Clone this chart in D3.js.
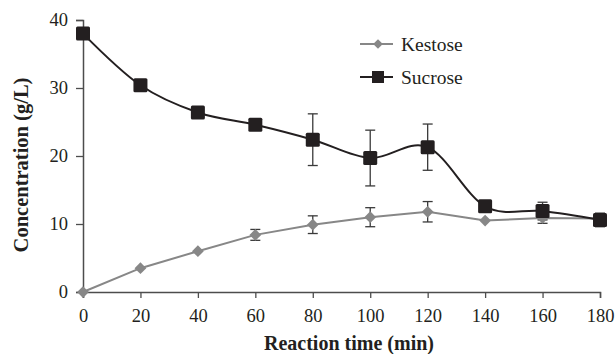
<!DOCTYPE html>
<html>
<head>
<meta charset="utf-8">
<script src="https://cdn.jsdelivr.net/npm/d3@7"></script>
<style>
body { margin: 0; background: #fff; }
</style>
</head>
<body>
<script>
const w = 615;
const h = 354;
const margin = {top: 20, right: 15, bottom: 62, left: 83};

// data
const times = [0, 20, 40, 60, 80, 100, 120, 140, 160, 180];
const sucrose = [38, 30.4, 26.4, 24.6, 22.4, 19.7, 21.3, 12.6, 11.9, 10.6];
const sucroseErr = [0, 0, 0, 0, 3.8, 4.1, 3.4, 0, 1.3, 1.0];
const kestose = [0, 3.5, 6.0, 8.4, 9.9, 11.0, 11.8, 10.5, 10.9, 10.8];
const kestoseErr = [0, 0, 0, 0.8, 1.3, 1.4, 1.5, 0, 0.8, 0.6];
const xTicks = [0, 20, 40, 60, 80, 100, 120, 140, 160, 180];
const yTicks = [0, 10, 20, 30, 40];

const serif = "Liberation Serif";
const ink = "#231f20";

const svg = d3.select("body")
	.append("svg")
	.attr("width", w)
	.attr("height", h);

const xScale = d3.scaleLinear().domain([0, 180]).range([margin.left, w - margin.right]);
const yScale = d3.scaleLinear().domain([0, 40]).range([h - margin.bottom, margin.top]);

const axisColor = "#4d4d4d";

const xAxis = d3.axisBottom(xScale).tickValues(xTicks).tickSize(6).tickPadding(11);
const gx = svg.append("g").attr("transform", "translate(0," + (h - margin.bottom) + ")").call(xAxis);
const yAxis = d3.axisLeft(yScale).tickValues(yTicks).tickSize(7).tickPadding(8);
const gy = svg.append("g").attr("transform", "translate(" + margin.left + ",0)").call(yAxis);

[gx, gy].forEach(g => {
	g.attr("font-family", null).attr("font-size", null);
	g.select(".domain").attr("stroke", axisColor).attr("stroke-width", 1.5);
	g.selectAll(".tick line").attr("stroke", axisColor).attr("stroke-width", 1.3);
	g.selectAll(".tick text")
		.attr("fill", ink)
		.attr("font-family", serif)
		.attr("font-size", 18.5);
});

svg.append("text")
	.attr("x", 349)
	.attr("y", 350)
	.attr("text-anchor", "middle")
	.attr("font-family", serif)
	.attr("font-weight", "bold")
	.attr("font-size", 20)
	.attr("fill", ink)
	.text("Reaction time (min)");

svg.append("text")
	.attr("transform", "translate(28,165) rotate(-90)")
	.attr("text-anchor", "middle")
	.attr("font-family", serif)
	.attr("font-weight", "bold")
	.attr("font-size", 20.5)
	.attr("fill", ink)
	.text("Concentration (g/L)");

const kColor = "#878787";
const sColor = "#231f20";

// lines
const sLine = d3.line()
	.x((d, i) => xScale(times[i]))
	.y(d => yScale(d))
	.curve(d3.curveCardinal.tension(0));
const kLine = d3.line()
	.x((d, i) => xScale(times[i]))
	.y(d => yScale(d));

svg.append("path").datum(kestose)
	.attr("d", kLine)
	.attr("fill", "none")
	.attr("stroke", kColor)
	.attr("stroke-width", 2);

svg.append("path").datum(sucrose)
	.attr("d", sLine)
	.attr("fill", "none")
	.attr("stroke", sColor)
	.attr("stroke-width", 2);

// error bars
function errBars(vals, errs, cls) {
	const data = vals.map((v, i) => ({t: times[i], v: v, e: errs[i]})).filter(d => d.e > 0);
	const g = svg.append("g").attr("class", cls);
	g.selectAll("line.v").data(data).enter().append("line")
		.attr("x1", d => xScale(d.t)).attr("x2", d => xScale(d.t))
		.attr("y1", d => yScale(d.v - d.e)).attr("y2", d => yScale(d.v + d.e))
		.attr("stroke", "#3a3a3a").attr("stroke-width", 1.3);
	[-1, 1].forEach(s => {
		g.selectAll("line.c" + (s > 0 ? "t" : "b")).data(data).enter().append("line")
			.attr("x1", d => xScale(d.t) - 5).attr("x2", d => xScale(d.t) + 5)
			.attr("y1", d => yScale(d.v + s * d.e)).attr("y2", d => yScale(d.v + s * d.e))
			.attr("stroke", "#3a3a3a").attr("stroke-width", 1.3);
	});
}
errBars(kestose, kestoseErr, "kerr");
errBars(sucrose, sucroseErr, "serr");

// markers
const diamond = d3.symbol().type(d3.symbolDiamond2).size(88);
svg.selectAll("path.k").data(kestose).enter().append("path")
	.attr("class", "k")
	.attr("d", diamond)
	.attr("transform", (d, i) => "translate(" + xScale(times[i]) + "," + yScale(d) + ")")
	.attr("fill", kColor);

svg.selectAll("rect.s").data(sucrose).enter().append("rect")
	.attr("class", "s")
	.attr("x", (d, i) => xScale(times[i]) - 7)
	.attr("y", d => yScale(d) - 7)
	.attr("width", 14)
	.attr("height", 14)
	.attr("rx", 1.5)
	.attr("fill", sColor);

// legend
const legend = svg.append("g").attr("transform", "translate(360,44)");
legend.append("line").attr("x1", 0).attr("x2", 33).attr("y1", 0).attr("y2", 0)
	.attr("stroke", kColor).attr("stroke-width", 2);
legend.append("path").attr("d", d3.symbol().type(d3.symbolDiamond2).size(60))
	.attr("transform", "translate(18,0)").attr("fill", kColor);
legend.append("text").attr("x", 41).attr("y", 6.5).attr("font-family", serif).attr("font-size", 19.5).attr("fill", ink).text("Kestose");

legend.append("line").attr("x1", 0).attr("x2", 33).attr("y1", 33).attr("y2", 33)
	.attr("stroke", sColor).attr("stroke-width", 2);
legend.append("rect").attr("x", 12).attr("y", 27).attr("width", 12).attr("height", 12).attr("fill", sColor);
legend.append("text").attr("x", 41).attr("y", 40).attr("font-family", serif).attr("font-size", 19.5).attr("fill", ink).text("Sucrose");
</script>
</body>
</html>
